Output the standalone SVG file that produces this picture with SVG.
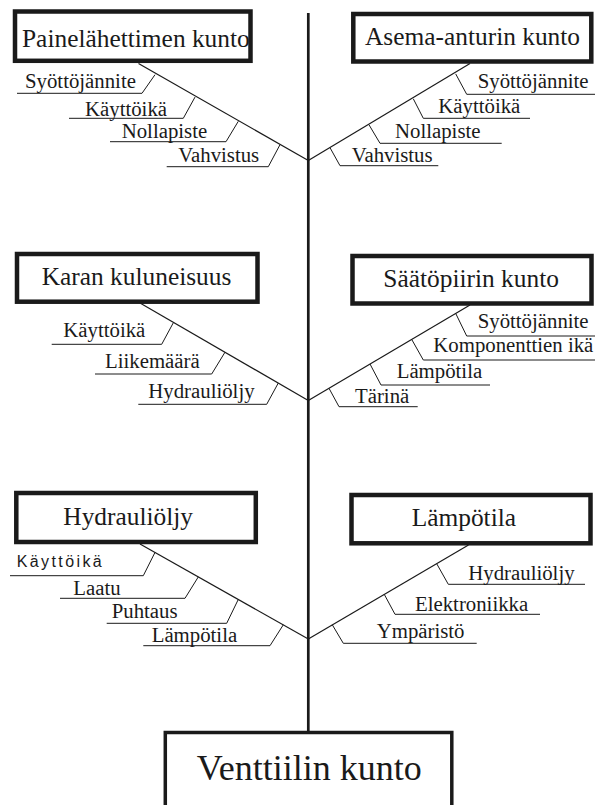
<svg xmlns="http://www.w3.org/2000/svg" width="595" height="805" viewBox="0 0 595 805">
<style>
.box{fill:#fff;stroke:#1a1a1a;stroke-width:4.5}
.bt{font-family:'Liberation Serif',serif;font-size:25.4px;fill:#1a1a1a}
.st{font-family:'Liberation Serif',serif;font-size:20.8px;fill:#1a1a1a}
.ss{font-family:'Liberation Sans',sans-serif;font-size:16px;fill:#1a1a1a}
.sub{fill:none;stroke:#1a1a1a;stroke-width:1}
.bone{fill:none;stroke:#1a1a1a;stroke-width:1.2}
.spine{fill:none;stroke:#1a1a1a;stroke-width:2.7}
</style>
<rect width="595" height="805" fill="#fff"/>
<g id="connectors">
<line class="spine" x1="308.3" y1="13" x2="308.3" y2="732"/>
<line class="bone" x1="138.5" y1="63.5" x2="308.3" y2="160.5"/>
<line class="bone" x1="470" y1="63.5" x2="308.3" y2="160.5"/>
<line class="bone" x1="140" y1="303" x2="308.3" y2="400.5"/>
<line class="bone" x1="470" y1="305" x2="308.3" y2="400.5"/>
<line class="bone" x1="140" y1="544" x2="308.3" y2="639"/>
<line class="bone" x1="468.5" y1="545" x2="308.3" y2="639"/>
</g>
<g id="painelahettimen">
<rect class="box" x="15" y="11.5" width="235.5" height="49.3"/>
<text class="bt" x="22" y="46.7" font-family="'Liberation Serif',serif">Painelähettimen kunto</text>
</g>
<g id="pl-syottojannite"><polyline class="sub" points="17,93.3 142,93.3 155,74.7"/><text class="st" x="25" y="87.5" font-family="'Liberation Serif',serif">Syöttöjännite</text></g>
<g id="pl-kayttoika"><polyline class="sub" points="69,118.3 183.3,118.3 195,97.1"/><text class="st" x="85" y="116" font-family="'Liberation Serif',serif">Käyttöikä</text></g>
<g id="pl-nollapiste"><polyline class="sub" points="110,141.7 226,141.7 238.3,121.3"/><text class="st" x="121.7" y="138.3" font-family="'Liberation Serif',serif">Nollapiste</text></g>
<g id="pl-vahvistus"><polyline class="sub" points="166.7,166.7 268.3,166.7 280,144.7"/><text class="st" x="178.3" y="162.3" font-family="'Liberation Serif',serif">Vahvistus</text></g>

<g id="asema-anturin">
<rect class="box" x="353.3" y="14" width="238" height="47.5"/>
<text class="bt" x="365" y="45" font-family="'Liberation Serif',serif">Asema-anturin kunto</text>
</g>
<g id="aa-syottojannite"><polyline class="sub" points="455.7,73.9 466.7,94.3 595,94.3"/><text class="st" x="477.7" y="88.3" font-family="'Liberation Serif',serif">Syöttöjännite</text></g>
<g id="aa-kayttoika"><polyline class="sub" points="413.3,98.8 423.3,118.3 530,118.3"/><text class="st" x="438.3" y="112.5" font-family="'Liberation Serif',serif">Käyttöikä</text></g>
<g id="aa-nollapiste"><polyline class="sub" points="369,124.8 380,143.3 501.7,143.3"/><text class="st" x="395" y="137.7" font-family="'Liberation Serif',serif">Nollapiste</text></g>
<g id="aa-vahvistus"><polyline class="sub" points="330,147.7 340,165.7 438.3,165.7"/><text class="st" x="351.7" y="161.7" font-family="'Liberation Serif',serif">Vahvistus</text></g>

<g id="karan-kuluneisuus">
<rect class="box" x="17" y="254" width="240.5" height="47.7"/>
<text class="bt" x="41.7" y="285" font-family="'Liberation Serif',serif">Karan kuluneisuus</text>
</g>
<g id="kk-kayttoika"><polyline class="sub" points="51.7,344.3 161.7,344.3 173.3,322.8"/><text class="st" x="63.3" y="336.7" font-family="'Liberation Serif',serif">Käyttöikä</text></g>
<g id="kk-liikemaara"><polyline class="sub" points="95,374 211.7,374 225,352.2"/><text class="st" x="105" y="368.3" font-family="'Liberation Serif',serif">Liikemäärä</text></g>
<g id="kk-hydrauliolju"><polyline class="sub" points="138.3,404.3 266.7,404.3 278.3,383"/><text class="st" x="148.3" y="398.3" font-family="'Liberation Serif',serif">Hydrauliöljy</text></g>

<g id="saatopiirin">
<rect class="box" x="352.5" y="256" width="239" height="47.5"/>
<text class="bt" x="383.3" y="286.7" font-family="'Liberation Serif',serif">Säätöpiirin kunto</text>
</g>
<g id="sp-syottojannite"><polyline class="sub" points="455.7,313.4 466.7,336 595,336"/><text class="st" x="477.7" y="328.3" font-family="'Liberation Serif',serif">Syöttöjännite</text></g>
<g id="sp-komponenttien"><polyline class="sub" points="411.7,339.4 423.3,360 595,360"/><text class="st" x="433.3" y="351.7" font-family="'Liberation Serif',serif">Komponenttien ikä</text></g>
<g id="sp-lampotila"><polyline class="sub" points="370,364 381,385 490,385"/><text class="st" x="396.7" y="377.7" font-family="'Liberation Serif',serif">Lämpötila</text></g>
<g id="sp-tarina"><polyline class="sub" points="329,388.3 339,406.7 417.7,406.7"/><text class="st" x="355" y="403.3" font-family="'Liberation Serif',serif">Tärinä</text></g>

<g id="hydrauliolju">
<rect class="box" x="16.3" y="493" width="239.5" height="49"/>
<text class="bt" x="63.3" y="525" font-family="'Liberation Serif',serif">Hydrauliöljy</text>
</g>
<g id="ho-kayttoika"><polyline class="sub" points="10,575.7 143.3,575.7 155,552.4"/><text class="ss" x="16.7" y="567.3" textLength="85" lengthAdjust="spacing" font-family="'Liberation Sans',sans-serif">Käyttöikä</text></g>
<g id="ho-laatu"><polyline class="sub" points="60,598.3 185,598.3 198.3,576.9"/><text class="st" x="73.3" y="595" font-family="'Liberation Serif',serif">Laatu</text></g>
<g id="ho-puhtaus"><polyline class="sub" points="106.7,623.3 226.7,623.3 238.3,599.4"/><text class="st" x="111.7" y="617.7" font-family="'Liberation Serif',serif">Puhtaus</text></g>
<g id="ho-lampotila"><polyline class="sub" points="143.3,645.7 270,645.7 283.3,624.8"/><text class="st" x="151.7" y="641.7" font-family="'Liberation Serif',serif">Lämpötila</text></g>

<g id="lampotila">
<rect class="box" x="351.5" y="495" width="239" height="48.3"/>
<text class="bt" x="411.7" y="525.7" font-family="'Liberation Serif',serif">Lämpötila</text>
</g>
<g id="lt-hydrauliolju"><polyline class="sub" points="436.7,563.7 448.3,584.3 585,584.3"/><text class="st" x="468.3" y="580" font-family="'Liberation Serif',serif">Hydrauliöljy</text></g>
<g id="lt-elektroniikka"><polyline class="sub" points="384.3,594.4 395,614.3 540,614.3"/><text class="st" x="415" y="610.7" font-family="'Liberation Serif',serif">Elektroniikka</text></g>
<g id="lt-ymparisto"><polyline class="sub" points="332.3,624.8 343.3,643.3 476.7,643.3"/><text class="st" x="376.7" y="637.7" font-family="'Liberation Serif',serif">Ympäristö</text></g>

<g id="venttiilin-kunto">
<rect x="165.3" y="732.5" width="286.5" height="100" fill="#fff" stroke="#1a1a1a" stroke-width="3.5"/>
<text x="196.7" y="780" font-family="'Liberation Serif',serif" font-size="36" fill="#1a1a1a">Venttiilin kunto</text>
</g>
</svg>
